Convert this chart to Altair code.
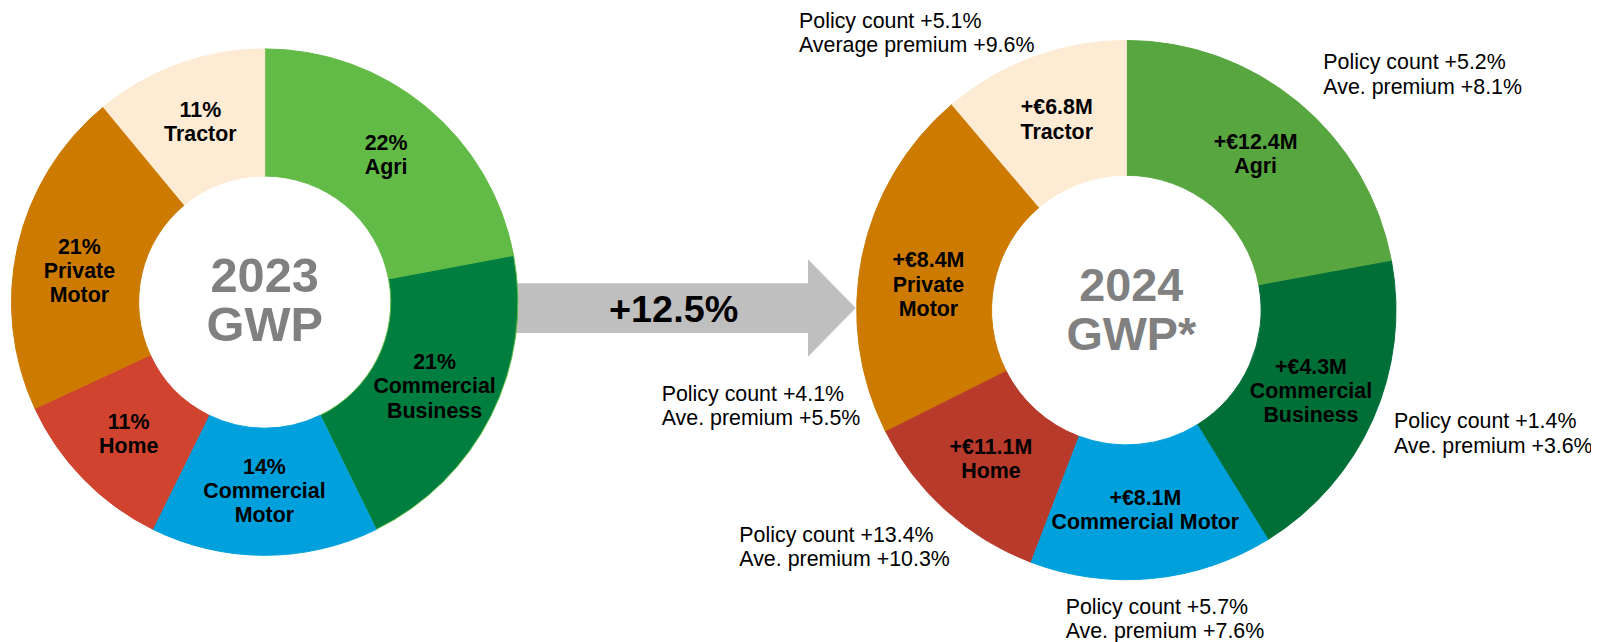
import altair as alt
import pandas as pd

# ---------------- data ----------------
categories = ["Agri", "Commercial Business", "Commercial Motor", "Home", "Private Motor", "Tractor"]
share_2023 = [22.05, 20.7, 14.55, 10.8, 20.9, 11.0]
share_2024 = [22.1, 19.1, 14.6, 11.8, 21.2, 11.2]
labels_2023 = ["22%\nAgri", "21%\nCommercial\nBusiness", "14%\nCommercial\nMotor",
               "11%\nHome", "21%\nPrivate\nMotor", "11%\nTractor"]
labels_2024 = ["+€12.4M\nAgri", "+€4.3M\nCommercial\nBusiness", "+€8.1M\nCommercial Motor",
               "+€11.1M\nHome", "+€8.4M\nPrivate\nMotor", "+€6.8M\nTractor"]
policy_count = ["+5.2%", "+1.4%", "+5.7%", "+13.4%", "+4.1%", "+5.1%"]
premium_change = ["+8.1%", "+3.6%", "+7.6%", "+10.3%", "+5.5%", "+9.6%"]
premium_wording = ["Ave. premium", "Ave. premium", "Ave. premium", "Ave. premium",
                   "Ave. premium", "Average premium"]
centre_titles = ["2023\nGWP", "2024\nGWP*"]
growth_label = "+12.5%"

# ---------------- layout / style ----------------
OFF = 8
W, H = 1591, 634
FONT = "Liberation Sans, Arial, sans-serif"
LH = 24.5
LEFT = dict(cx=266 - OFF, cy=302 - OFF, R=254.5, r=126.7, lr=191, pm_nudge=12)
RIGHT = dict(cx=1132 - OFF, cy=310 - OFF, R=271, r=135.5, lr=203, pm_nudge=16)
fills_2023 = ["#62BB46", "#007E3F", "#00A0DC", "#D0432F", "#CC7A00", "#FDEBD3"]
fills_2024 = ["#58A640", "#006F37", "#00A0DC", "#B83A2B", "#CC7A00", "#FDEBD3"]
strokes_2023 = ["#62BB46", "#62BB46", "#00A0DC", "#D0432F", "#CC7A00", "#FDEBD3"]
strokes_2024 = fills_2024
# annotation anchor (left x, first-line centre) in page pixels
annot_xy = {
    "Agri": (1330, 62),
    "Commercial Business": (1401, 423),
    "Commercial Motor": (1071, 609),
    "Home": (743, 537),
    "Private Motor": (665, 395.5),
    "Tractor": (803, 20.5),
}

keys = [f"2023 {c}" for c in categories] + [f"2024 {c}" for c in categories]
fill_scale = alt.Scale(domain=keys, range=fills_2023 + fills_2024)
stroke_scale = alt.Scale(domain=keys, range=strokes_2023 + strokes_2024)
theta_scale = alt.Scale(domain=[0, 100])


def donut(year, shares, labels, g):
    # vertical shift so that multi-line labels are centred on their anchor
    ldy = [-(lab.count("\n")) * LH / 2 + (g["pm_nudge"] if c == "Private Motor" else 0)
           for lab, c in zip(labels, categories)]
    df = pd.DataFrame({
        "idx": list(range(len(categories))),
        "category": categories,
        "key": [f"{year} {c}" for c in categories],
        "share": shares,
        "label": labels,
        "ldy": ldy,
    })
    base = alt.Chart(df).encode(
        theta=alt.Theta("share:Q", stack=True, scale=theta_scale),
        order=alt.Order("idx:Q", sort="ascending"),
        x=alt.value(g["cx"]),
        y=alt.value(g["cy"]),
    )
    arcs = base.mark_arc(outerRadius=g["R"], innerRadius=g["r"], strokeWidth=1).encode(
        fill=alt.Fill("key:N", scale=fill_scale, legend=None),
        stroke=alt.Stroke("key:N", scale=stroke_scale, legend=None),
    )
    txt = dict(radius=g["lr"], font=FONT, fontSize=21.5, fontWeight="bold",
               lineBreak="\n", lineHeight=LH, color="black")
    layers = [arcs]
    for v in sorted(set(ldy)):
        layers.append(base.mark_text(dy=v, **txt).encode(
            text="label:N",
            opacity=alt.condition(alt.datum.ldy == v, alt.value(1), alt.value(0)),
        ))
    return layers


left_layers = donut("2023", share_2023, labels_2023, LEFT)
right_layers = donut("2024", share_2024, labels_2024, RIGHT)

one = pd.DataFrame({"t": [0]})

left_title = alt.Chart(one).mark_text(
    font=FONT, fontSize=49, fontWeight="bold", color="#808080",
    lineBreak="\n", lineHeight=50,
).encode(x=alt.value(266 - OFF), y=alt.value(276.5 - OFF), text=alt.value(centre_titles[0]))

right_title = alt.Chart(one).mark_text(
    font=FONT, fontSize=47, fontWeight="bold", color="#808080",
    lineBreak="\n", lineHeight=49,
).encode(x=alt.value(1137 - OFF), y=alt.value(287 - OFF), text=alt.value(centre_titles[1]))

# arrow (custom symbol path, unit coords scaled by sqrt(size)/2)
arrow_path = "M-1,-0.145L0.722,-0.145L0.722,-0.284L1,0L0.722,0.284L0.722,0.145L-1,0.145Z"
arrow = alt.Chart(one).mark_point(
    shape=arrow_path, size=345 ** 2, filled=True, color="#BFBFBF", opacity=1, strokeWidth=0,
).encode(x=alt.value(687.5 - OFF), y=alt.value(308 - OFF))

growth = alt.Chart(one).mark_text(
    font=FONT, fontSize=38, fontWeight="bold", color="black",
).encode(x=alt.value(677 - OFF), y=alt.value(311 - OFF), text=alt.value(growth_label))

ann_df = pd.DataFrame({
    "category": categories,
    "text": [f"Policy count {p}\n{w} {v}" for p, w, v in zip(policy_count, premium_wording, premium_change)],
    "ax": [annot_xy[c][0] - OFF for c in categories],
    "ay": [annot_xy[c][1] - OFF for c in categories],
})
annotations = alt.Chart(ann_df).mark_text(
    font=FONT, fontSize=21.5, align="left", baseline="middle", color="black",
    lineBreak="\n", lineHeight=LH,
).encode(
    x=alt.X("ax:Q", scale=None, axis=None),
    y=alt.Y("ay:Q", scale=None, axis=None),
    text="text:N",
)

chart = alt.layer(
    arrow, *left_layers, *right_layers, growth,
    left_title, right_title, annotations,
).properties(
    width=W, height=H, padding=0,
    autosize=alt.AutoSizeParams(type="none"),
    background="white",
).configure_view(stroke=None)

chart.save("out.html", embed_options={"renderer": "svg", "actions": False})
